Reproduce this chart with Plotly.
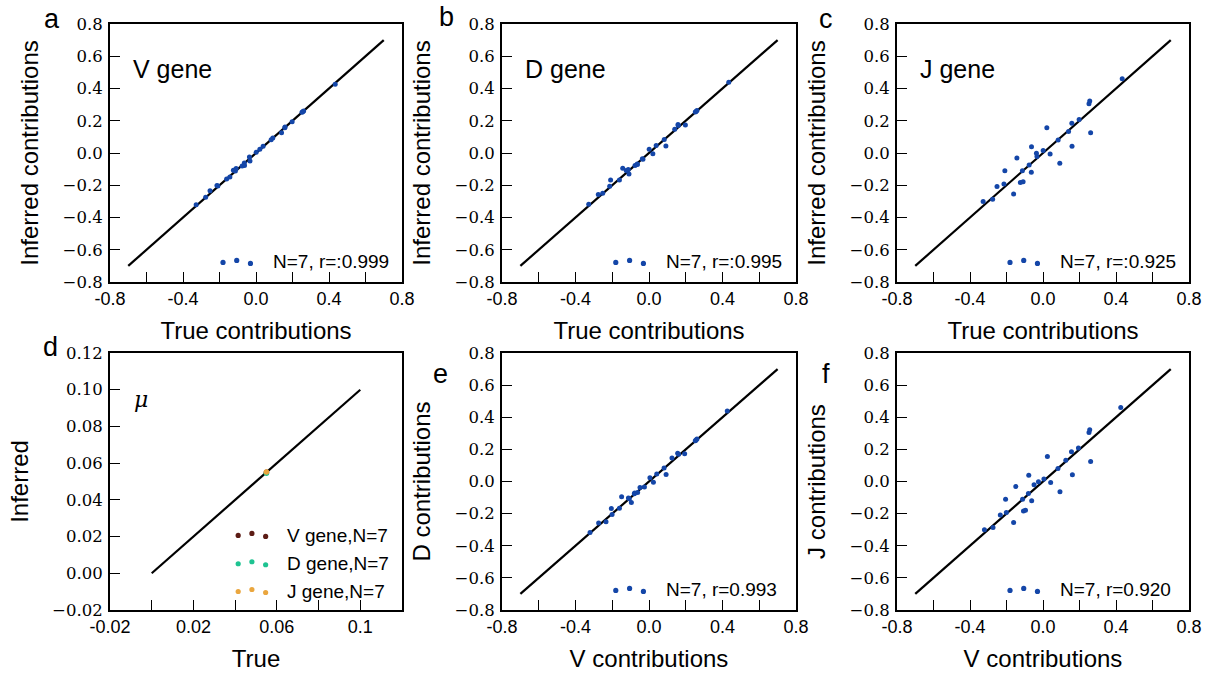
import plotly.graph_objects as go

# ---------------- data ----------------
true_contrib = [-0.328, -0.276, -0.252, -0.214, -0.209, -0.161, -0.143, -0.124, -0.113, -0.109,
                -0.076, -0.064, -0.063, -0.036, -0.033, 0.001, 0.021, 0.039, 0.083, 0.092,
                0.140, 0.158, 0.159, 0.198, 0.252, 0.256, 0.261, 0.434]
v_inferred = [-0.321, -0.274, -0.234, -0.201, -0.205, -0.161, -0.149, -0.107, -0.112, -0.096,
              -0.080, -0.062, -0.078, -0.025, -0.049, 0.005, 0.024, 0.042, 0.082, 0.093,
              0.125, 0.156, 0.161, 0.194, 0.252, 0.256, 0.261, 0.426]
d_inferred = [-0.318, -0.258, -0.250, -0.206, -0.168, -0.167, -0.095, -0.108, -0.103, -0.130,
              -0.077, -0.068, -0.072, -0.035, -0.038, 0.023, -0.005, 0.046, 0.084, 0.044,
              0.147, 0.176, 0.170, 0.173, 0.254, 0.258, 0.264, 0.439]
j_inferred = [-0.301, -0.287, -0.208, -0.193, -0.110, -0.255, -0.031, -0.183, -0.110, -0.179,
              -0.075, -0.120, 0.039, -0.002, -0.021, 0.015, 0.156, -0.006, 0.081, -0.064,
              0.133, 0.185, 0.042, 0.208, 0.305, 0.322, 0.125, 0.461]

mu_genes = ["V gene", "D gene", "J gene"]
mu_true = [0.055, 0.055, 0.055]
mu_inferred = [0.0550, 0.0545, 0.0552]
mu_labels = ["V gene,N=7", "D gene,N=7", "J gene,N=7"]

diag_line = [-0.7, 0.7]
mu_line = [0.0, 0.1]

panel_stats = ["N=7, r=:0.999", "N=7, r=:0.995", "N=7, r=:0.925", None,
               "N=7, r=0.993", "N=7, r=0.920"]
gene_labels = ["V gene", "D gene", "J gene"]
panel_letters = ["a", "b", "c", "d", "e", "f"]

contrib_ticks = [-0.8, -0.6, -0.4, -0.2, 0.0, 0.2, 0.4, 0.6, 0.8]
contrib_xlabels = ["-0.8", "", "-0.4", "", "0.0", "", "0.4", "", "0.8"]
contrib_ylabels = ["\u22120.8", "\u22120.6", "\u22120.4", "\u22120.2", "0.0", "0.2", "0.4", "0.6", "0.8"]
mu_ticks = [-0.02, 0.0, 0.02, 0.04, 0.06, 0.08, 0.10, 0.12]
mu_xlabels = ["-0.02", "", "0.02", "", "0.06", "", "0.1", ""]
mu_ylabels = ["\u22120.02", "0.00", "0.02", "0.04", "0.06", "0.08", "0.10", "0.12"]

x_titles = ["True contributions", "True contributions", "True contributions",
            "True", "V contributions", "V contributions"]
y_titles = ["Inferred contributions", "Inferred contributions", "Inferred contributions",
            "Inferred", "D contributions", "J contributions"]

# ---------------- styling ----------------
W, H = 1211, 675
BLUE = "#1446a8"
MU_COLORS = ["#5c1c15", "#1ec391", "#eaa63e"]
SANS = "Liberation Sans, Arial, Helvetica, sans-serif"
SERIF = "DejaVu Serif"

col_px = [(110, 402), (502, 796), (897, 1189)]
row_px = [(24, 282), (353, 610)]


def xdom(c):
    a, b = col_px[c]
    return [a / W, b / W]


def ydom(r):
    a, b = row_px[r]
    return [1 - b / H, 1 - a / H]


fig = go.Figure()
layout = dict(
    width=W, height=H, margin=dict(l=0, r=0, t=0, b=0, autoexpand=False),
    paper_bgcolor="white", plot_bgcolor="white", showlegend=False,
    font=dict(family=SANS, color="black"),
)
annotations = []
shapes = []

scatter_pairs = {0: (true_contrib, v_inferred), 1: (true_contrib, d_inferred),
                 2: (true_contrib, j_inferred), 4: (v_inferred, d_inferred),
                 5: (v_inferred, j_inferred)}

dot_dx = [0.0, 0.047, 0.094]
dot_dy = [0, 2, -1]


def add_dots(xr, yr, x0, y0, color):
    for dx, dy in zip(dot_dx, dot_dy):
        shapes.append(dict(type="circle", xref=xr, yref=yr, xsizemode="pixel", ysizemode="pixel",
                           xanchor=x0 + dx, yanchor=y0, x0=-2.6, x1=2.6, y0=dy - 2.6, y1=dy + 2.6,
                           fillcolor=color, line=dict(width=0)))


for i in range(6):
    r, c = divmod(i, 3)
    n = "" if i == 0 else str(i + 1)
    xa, ya = "x" + n, "y" + n
    is_mu = (i == 3)
    ticks = mu_ticks if is_mu else contrib_ticks
    rng = [-0.02, 0.12] if is_mu else [-0.8, 0.8]
    common = dict(range=rng, showgrid=False, zeroline=False, showline=True, linewidth=2,
                  linecolor="black", mirror=True, ticks="inside", ticklen=10, tickwidth=1.3,
                  tickcolor="black", tickvals=ticks, fixedrange=True, automargin=False)
    layout["xaxis" + n] = dict(common, domain=xdom(c), anchor=ya,
                               ticktext=mu_xlabels if is_mu else contrib_xlabels,
                               tickfont=dict(family=SANS, size=18, color="black"),
                               ticklabelstandoff=-1,
                               title=dict(text=x_titles[i], font=dict(family=SANS, size=24, color="black"),
                                          standoff=15))
    layout["yaxis" + n] = dict(common, domain=ydom(r), anchor=xa,
                               ticktext=mu_ylabels if is_mu else contrib_ylabels,
                               tickfont=dict(family=SERIF, size=16.5, color="black"),
                               ticklabelstandoff=2,
                               title=dict(text=y_titles[i], font=dict(family=SANS, size=24, color="black"),
                                          standoff=17))

    if is_mu:
        fig.add_trace(go.Scatter(x=mu_line, y=mu_line, mode="lines", xaxis=xa, yaxis=ya,
                                 line=dict(color="black", width=2.2)))
        for g in range(3):
            fig.add_trace(go.Scatter(x=[mu_true[g]], y=[mu_inferred[g]], mode="markers", name=mu_genes[g],
                                     xaxis=xa, yaxis=ya,
                                     marker=dict(color=MU_COLORS[g], size=5.5, line=dict(width=0))))
        legend_y = [0.290, 0.180, 0.072]
        for g in range(3):
            add_dots(xa + " domain", ya + " domain", 0.439, legend_y[g], MU_COLORS[g])
            annotations.append(dict(xref=xa + " domain", yref=ya + " domain", x=0.600, y=legend_y[g],
                                    text=mu_labels[g], showarrow=False, xanchor="left", yanchor="middle",
                                    font=dict(family=SANS, size=19, color="black")))
        annotations.append(dict(xref=xa + " domain", yref=ya + " domain", x=0.075, y=0.82,
                                text="<i>\u03bc</i>", showarrow=False, xanchor="left", yanchor="middle",
                                font=dict(family=SERIF, size=22, color="black")))
    else:
        xs, ys = scatter_pairs[i]
        fig.add_trace(go.Scatter(x=diag_line, y=diag_line, mode="lines", xaxis=xa, yaxis=ya,
                                 line=dict(color="black", width=2.2)))
        fig.add_trace(go.Scatter(x=xs, y=ys, mode="markers", xaxis=xa, yaxis=ya, name=panel_stats[i],
                                 marker=dict(color=BLUE, size=5, line=dict(width=0))))
        add_dots(xa + " domain", ya + " domain", 0.387, 0.076, BLUE)
        annotations.append(dict(xref=xa + " domain", yref=ya + " domain", x=0.552, y=0.078,
                                text=panel_stats[i], showarrow=False, xanchor="left", yanchor="middle",
                                font=dict(family=SANS, size=19, color="black")))
        if r == 0:
            annotations.append(dict(xref=xa + " domain", yref=ya + " domain", x=0.072, y=0.826,
                                    text=gene_labels[c], showarrow=False, xanchor="left", yanchor="middle",
                                    font=dict(family=SANS, size=25, color="black")))

letter_pos = [(52, 19), (446, 17), (826, 19), (50, 347), (440, 374), (826, 374)]
for L, (px, py) in zip(panel_letters, letter_pos):
    annotations.append(dict(xref="paper", yref="paper", x=px / W, y=1 - py / H, text=L,
                            showarrow=False, xanchor="center", yanchor="middle",
                            font=dict(family=SANS, size=27, color="black")))

layout["annotations"] = annotations
layout["shapes"] = shapes
fig.update_layout(**layout)
fig.write_html("out.html", config={"displayModeBar": False},
               post_script="document.body.style.margin='0px';document.body.style.padding='0px';"
                           "document.body.style.overflow='hidden';")
